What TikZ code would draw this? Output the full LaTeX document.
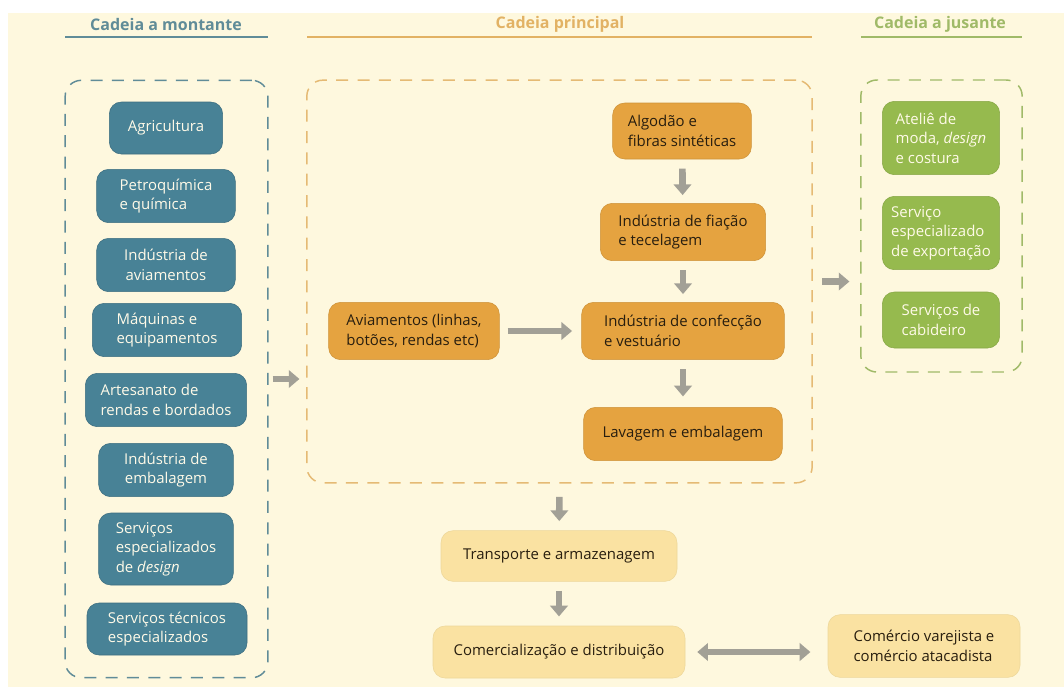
\documentclass[tikz,border=0pt]{standalone}
\usepackage{fontspec}
\setmainfont{Open Sans}
\usepackage{xcolor}
\usetikzlibrary{positioning,arrows.meta}
\definecolor{bgcream}{RGB}{254,248,222}
\definecolor{tealbox}{RGB}{72,130,150}
\definecolor{tealhead}{RGB}{96,140,152}
\definecolor{orangebox}{RGB}{229,163,64}
\definecolor{orangehead}{RGB}{226,178,100}
\definecolor{greenbox}{RGB}{150,186,78}
\definecolor{greenhead}{RGB}{160,186,104}
\definecolor{tanbox}{RGB}{250,226,162}
\definecolor{arrowgray}{RGB}{162,160,150}
\definecolor{lighttext}{RGB}{255,250,232}
\definecolor{darktext}{RGB}{40,30,15}

\begin{document}
\begin{tikzpicture}[
    x=0.75pt, y=-0.75pt,
    box/.style={rounded corners=9pt, inner sep=2pt, align=left, font=\fontsize{11.2}{14.6}\selectfont},
    montbox/.style={box, fill=tealbox, draw=tealbox!85!black, text=lighttext},
    princbox/.style={box, fill=orangebox, draw=orangebox!90!black, text=darktext},
    jusbox/.style={box, fill=greenbox, draw=greenbox!90!black, text=lighttext},
    logbox/.style={box, fill=tanbox, draw=tanbox!95!black, text=darktext},
    chainbox/.style={draw, dash pattern=on 9pt off 7pt, rounded corners=12pt, line width=1.1pt, inner sep=0pt},
    head/.style={font=\fontsize{12}{14}\selectfont\bfseries},
    flow/.style={-{Triangle[width=13pt,length=8pt]}, line width=5pt, draw=arrowgray},
    both/.style={{Triangle[width=13pt,length=8pt]}-{Triangle[width=13pt,length=8pt]}, line width=5pt, draw=arrowgray}
]
    \useasboundingbox (0,0) rectangle (1064,687);
    \fill[bgcream] (8,13) rectangle (1064,687);

    % headings
    \node[head, text=tealhead] (hmont) at (166,24) {Cadeia a montante};
    \node[head, text=orangehead] (hprinc) at (560,24) {Cadeia principal};
    \node[head, text=greenhead] (hjus) at (940,24) {Cadeia a jusante};
    \draw[tealhead, line width=1.5pt] (65,37) -- (268,37);
    \draw[orangehead, line width=1.5pt] (307,37) -- (812,37);
    \draw[greenhead, line width=1.5pt] (861,37) -- (1022,37);

    % containers
    \node[chainbox, draw=tealhead, minimum width=152pt, minimum height=448pt] (montante) at (166.5,379) {};
    \node[chainbox, draw=orangehead!90!white, minimum width=379pt, minimum height=302pt] (principal) at (559.5,281.5) {};
    \node[chainbox, draw=greenhead, minimum width=121pt, minimum height=219pt] (jusante) at (941.5,226) {};

    % cadeia a montante
    \node[montbox, minimum width=85pt, minimum height=39pt] (agri) at (166,128) {Agricultura};
    \node[montbox, minimum width=104pt, minimum height=40pt] (petro) at (166,196) {Petroquímica\\e química};
    \node[montbox, minimum width=104pt, minimum height=40pt, align=center] (indavi) at (166,265) {Indústria de\\aviamentos};
    \node[montbox, minimum width=112pt, minimum height=40pt] (maq) at (167,330) {Máquinas e\\equipamentos};
    \node[montbox, minimum width=121pt, minimum height=40pt] (artes) at (166,400) {Artesanato de\\rendas e bordados};
    \node[montbox, minimum width=101pt, minimum height=40pt, align=center] (indemb) at (166,470) {Indústria de\\embalagem};
    \node[montbox, minimum width=101pt, minimum height=54pt] (servdes) at (166,549) {Serviços\\especializados\\de \textit{design}};
    \node[montbox, minimum width=120pt, minimum height=39pt] (servtec) at (167,629) {Serviços técnicos\\especializados};

    % cadeia principal
    \node[princbox, minimum width=104pt, minimum height=42pt] (algodao) at (682,131) {Algodão e\\fibras sintéticas};
    \node[princbox, minimum width=124pt, minimum height=43pt] (fiacao) at (683,232) {Indústria de fiação\\e tecelagem};
    \node[princbox, minimum width=128pt, minimum height=43pt] (aviam) at (414,331) {Aviamentos (linhas,\\botões, rendas etc)};
    \node[princbox, minimum width=152pt, minimum height=43pt] (confec) at (683,331) {Indústria de confecção\\e vestuário};
    \node[princbox, minimum width=149pt, minimum height=40pt] (lavagem) at (683,434) {Lavagem e embalagem};

    % cadeia a jusante
    \node[jusbox, minimum width=88pt, minimum height=55pt] (atelie) at (941,138) {Ateliê de\\moda, \textit{design}\\e costura};
    \node[jusbox, minimum width=88pt, minimum height=55pt] (export) at (941,233) {Serviço\\especializado\\de exportação};
    \node[jusbox, minimum width=88pt, minimum height=42pt] (cabide) at (941,320) {Serviços de\\cabideiro};

    % logistica
    \node[logbox, minimum width=177pt, minimum height=38pt] (transp) at (559,556) {Transporte e armazenagem};
    \node[logbox, minimum width=189pt, minimum height=39pt] (comerc) at (559,652) {Comercialização e distribuição};
    \node[logbox, minimum width=144pt, minimum height=47pt] (varejo) at (924,646) {Comércio varejista e\\comércio atacadista};

    % arrows
    \draw[flow] ([xshift=3pt]montante.east) -- ([xshift=-5pt]principal.west |- montante.east);
    \draw[flow] ([xshift=7pt]principal.east) -- ([xshift=-8pt]jusante.west |- principal.east);
    \draw[flow, shorten <=7pt, shorten >=6pt] (algodao) -- (fiacao);
    \draw[flow, shorten <=7pt, shorten >=6pt] (fiacao) -- (confec);
    \draw[flow, shorten <=6pt, shorten >=7pt] (aviam) -- (confec);
    \draw[flow, shorten <=7pt, shorten >=8pt] (confec) -- (lavagem);
    \draw[flow, shorten <=10pt, shorten >=7pt] (principal.south) -- (transp);
    \draw[flow, shorten <=7pt, shorten >=7pt] (transp) -- (comerc);
    \draw[both, shorten <=9pt, shorten >=13pt] (comerc.east) -- (varejo.west |- comerc.east);
\end{tikzpicture}
\end{document}
